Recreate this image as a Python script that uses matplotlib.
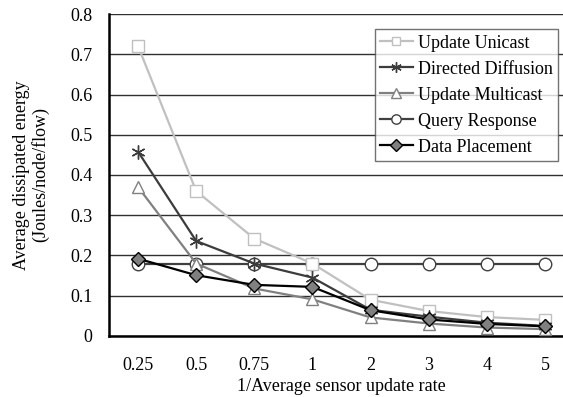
import matplotlib.pyplot as plt

plt.rcParams['font.family'] = ['Liberation Serif', 'DejaVu Serif']

# Категории оси X и значения серий
rates = ['0.25', '0.5', '0.75', '1', '2', '3', '4', '5']
update_unicast = [0.72, 0.36, 0.242, 0.18, 0.09, 0.062, 0.047, 0.04]
directed_diffusion = [0.458, 0.236, 0.18, 0.145, 0.065, 0.048, 0.033, 0.025]
update_multicast = [0.37, 0.18, 0.118, 0.091, 0.046, 0.031, 0.021, 0.017]
query_response = [0.18, 0.18, 0.18, 0.18, 0.18, 0.18, 0.18, 0.18]
data_placement = [0.192, 0.151, 0.127, 0.122, 0.064, 0.041, 0.03, 0.024]

fig = plt.figure(figsize=(5.63, 3.97), dpi=100)
ax = fig.add_axes([0.1936, 0.1537, 0.826, 0.811])

x = list(range(len(rates)))
asterisk = (6, 2, 0)

ax.plot(x, update_unicast, color='#c0c0c0', lw=1.6, marker='s', ms=8,
        mfc='white', mec='#c0c0c0', mew=1.0, label='Update Unicast', zorder=3)
ax.plot(x, directed_diffusion, color='#3c3c3c', lw=1.6, marker=asterisk, ms=10,
        mec='#3c3c3c', mew=1.0, label='Directed Diffusion', zorder=4)
ax.plot(x, update_multicast, color='#808080', lw=1.6, marker='^', ms=9,
        mfc='white', mec='#808080', mew=1.0, label='Update Multicast', zorder=3)
ax.plot(x, query_response, color='#404040', lw=1.6, marker='o', ms=9,
        mfc='white', mec='#404040', mew=1.0, label='Query Response', zorder=2)
ax.plot(x, data_placement, color='black', lw=1.6, marker='D', ms=7.5,
        mfc='#808080', mec='black', mew=1.0, label='Data Placement', zorder=5)

ax.set_xlim(-0.5, 7.5)
ax.set_ylim(0, 0.8)
ax.set_xticks(x)
ax.set_xticklabels(rates)
ax.set_yticks([0, 0.1, 0.2, 0.3, 0.4, 0.5, 0.6, 0.7, 0.8])
ax.set_yticklabels(['0', '0.1', '0.2', '0.3', '0.4', '0.5', '0.6', '0.7', '0.8'])
ax.tick_params(labelsize=13, length=0)
ax.tick_params(axis='x', pad=15)
ax.tick_params(axis='y', pad=12)
ax.yaxis.grid(True, color='#303030', lw=1.0)
ax.set_axisbelow(True)

for side in ['top', 'right']:
    ax.spines[side].set_visible(False)
for side in ['left', 'bottom']:
    ax.spines[side].set_linewidth(1.8)
    ax.spines[side].set_color('black')

ax.set_xlabel('1/Average sensor update rate', fontsize=13, labelpad=3)
ax.set_ylabel('Average dissipated energy\n(Joules/node/flow)', fontsize=13,
              labelpad=15, linespacing=1.05)

leg = ax.legend(loc='upper right', bbox_to_anchor=(0.966, 0.953), fontsize=13,
                frameon=True, fancybox=False, handlelength=1.8, handletextpad=0.3,
                borderpad=0.3, labelspacing=0.5, borderaxespad=0)
leg.get_frame().set_edgecolor('#505050')
leg.get_frame().set_linewidth(1.0)
for h in leg.legend_handles:
    h.set_markersize(h.get_markersize() * 0.75)

fig.savefig('out.png', dpi=100)
